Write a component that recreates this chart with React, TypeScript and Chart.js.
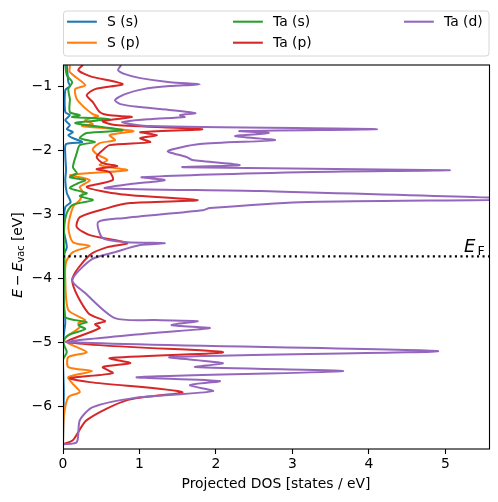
import React, { useEffect, useRef } from "react";
import { Chart, registerables } from "chart.js";

Chart.register(...registerables);

// ---------- data ----------
const seriesLabels = ["S (s)", "S (p)", "Ta (s)", "Ta (p)", "Ta (d)"];
const seriesColors = ["#1f77b4", "#ff7f0e", "#2ca02c", "#d62728", "#9467bd"];

const fermiLevel = -3.66;
const xTicks = [0, 1, 2, 3, 4, 5];
const yTicks = [-6, -5, -4, -3, -2, -1];
const xMin = 0;
const xMax = 5.57;
const yMin = -6.67;
const yMax = -0.67;

// S (s)
const sSEnergy = [-0.672, -0.938, -1.0, -1.063, -1.406, -1.453, -1.531, -1.609, -1.672, -1.719, -1.766, -1.813, -1.875, -1.906, -2.078, -2.313, -2.469, -2.672, -2.813, -2.89, -3.25, -3.516, -3.64, -4.344, -4.688, -4.89, -5.281, -5.781, -6.594];
const sSDos = [0.05, 0.07, 0.09, 0.03, 0.03, 0.09, 0.03, 0.09, 0.05, 0.13, 0.07, 0.13, 0.25, 0.04, 0.03, 0.04, 0.03, 0.05, 0.10, 0.03, 0.01, 0.05, 0.01, 0.01, 0.03, 0.01, 0.0, 0.01, 0.0];

// S (p)
const sPEnergy = [-0.672, -0.781, -0.984, -1.047, -1.203, -1.344, -1.438, -1.469, -1.531, -1.594, -1.625, -1.703, -1.766, -1.844, -1.89, -1.984, -2.063, -2.156, -2.234, -2.313, -2.359, -2.39, -2.469, -2.578, -2.656, -2.781, -2.89, -3.203, -3.438, -3.5, -3.594, -3.75, -4.031, -4.5, -4.656, -4.703, -4.766, -4.969, -5.156, -5.234, -5.39, -5.453, -5.547, -5.64, -5.781, -5.859, -6.172, -6.594];
const sPDos = [0.09, 0.09, 0.29, 0.16, 0.18, 0.29, 0.39, 0.46, 0.29, 0.39, 0.25, 0.92, 0.61, 0.68, 0.48, 0.39, 0.44, 0.58, 0.48, 0.84, 0.35, 0.09, 0.35, 0.22, 0.26, 0.22, 0.13, 0.07, 0.13, 0.35, 0.13, 0.04, 0.03, 0.07, 0.29, 0.20, 0.22, 0.01, 0.31, 0.07, 0.07, 0.38, 0.07, 0.12, 0.22, 0.07, 0.01, 0.0];

// Ta (s)
const taSEnergy = [-0.672, -0.828, -0.938, -1.047, -1.203, -1.406, -1.453, -1.484, -1.516, -1.578, -1.688, -1.734, -1.813, -1.875, -1.922, -2.047, -2.266, -2.359, -2.422, -2.469, -2.516, -2.594, -2.672, -2.719, -2.781, -2.859, -3.016, -3.328, -3.719, -4.344, -4.609, -4.656, -4.688, -4.734, -4.797, -4.89, -5.0, -5.156, -5.281, -6.594];
const taSDos = [0.03, 0.05, 0.12, 0.07, 0.09, 0.09, 0.22, 0.12, 0.61, 0.16, 0.78, 0.31, 0.22, 0.42, 0.22, 0.18, 0.13, 0.18, 0.09, 0.29, 0.20, 0.09, 0.31, 0.22, 0.39, 0.12, 0.04, 0.01, 0.02, 0.01, 0.03, 0.16, 0.31, 0.20, 0.29, 0.07, 0.0, 0.05, 0.0, 0.0];

// Ta (p)
const taPEnergy = [-0.672, -0.75, -0.844, -0.969, -1.047, -1.141, -1.25, -1.406, -1.453, -1.484, -1.547, -1.609, -1.672, -1.719, -1.766, -1.813, -1.875, -1.922, -2.0, -2.109, -2.203, -2.25, -2.297, -2.344, -2.469, -2.578, -2.688, -2.781, -2.828, -2.906, -3.047, -3.203, -3.328, -3.453, -3.516, -3.64, -4.031, -4.547, -4.672, -4.719, -4.781, -5.0, -5.156, -5.25, -5.328, -5.39, -5.484, -5.563, -5.625, -5.781, -5.906, -6.219, -6.531, -6.594];
const taPDos = [0.26, 0.20, 0.35, 0.78, 0.42, 0.31, 0.39, 0.48, 0.59, 0.90, 0.52, 0.68, 1.82, 1.01, 1.23, 1.01, 1.14, 0.61, 0.52, 0.44, 0.52, 0.71, 0.44, 0.61, 0.65, 0.31, 0.75, 1.76, 0.88, 0.58, 0.22, 0.18, 0.35, 0.84, 0.58, 0.35, 0.12, 0.33, 0.55, 0.42, 0.48, 0.05, 2.09, 0.61, 0.88, 0.52, 0.65, 0.09, 0.35, 1.56, 0.84, 0.31, 0.13, 0.0];

// Ta (d)
const taDEnergy = [-0.672, -0.75, -0.813, -0.875, -0.938, -0.969, -1.0, -1.047, -1.125, -1.219, -1.281, -1.328, -1.359, -1.422, -1.453, -1.484, -1.516, -1.563, -1.625, -1.672, -1.703, -1.734, -1.781, -1.844, -1.906, -2.016, -2.109, -2.156, -2.234, -2.266, -2.313, -2.344, -2.422, -2.469, -2.531, -2.594, -2.64, -2.766, -2.813, -2.906, -2.938, -3.063, -3.125, -3.375, -3.438, -3.453, -3.484, -3.594, -3.703, -4.031, -4.234, -4.625, -4.656, -4.672, -4.734, -4.781, -4.86, -5.0, -5.14, -5.234, -5.328, -5.39, -5.453, -5.547, -5.609, -5.672, -5.766, -5.875, -6.016, -6.219, -6.563, -6.594];
const taDDos = [0.76, 0.72, 0.81, 1.01, 1.40, 1.79, 1.40, 1.05, 0.81, 0.68, 0.75, 1.01, 1.27, 1.73, 1.53, 1.59, 1.14, 0.77, 1.14, 4.10, 2.31, 2.69, 2.25, 2.77, 1.79, 1.37, 1.62, 1.69, 2.31, 1.57, 5.05, 3.10, 1.03, 1.33, 0.88, 0.55, 2.58, 6.0, 3.10, 1.92, 1.83, 0.78, 0.46, 0.52, 0.84, 1.33, 1.01, 0.68, 0.38, 0.12, 0.29, 0.68, 1.20, 1.76, 1.42, 1.92, 1.14, 0.05, 4.90, 1.40, 2.09, 1.73, 3.66, 0.97, 2.05, 1.66, 1.96, 0.92, 0.39, 0.22, 0.18, 0.0];

const seriesEnergies = [sSEnergy, sPEnergy, taSEnergy, taPEnergy, taDEnergy];
const seriesDos = [sSDos, sPDos, taSDos, taPDos, taDDos];

const xTitle = "Projected DOS [states / eV]";

// ---------- helpers ----------
const FONT = '"DejaVu Sans", sans-serif';
const FS = 13.9;

function fmtTick(v: number): string {
  return v < 0 ? "\u2212" + Math.abs(v) : String(v);
}

type Piece = { t: string; italic?: boolean; size: number; dy: number; gapAfter?: number };

function drawPieces(ctx: CanvasRenderingContext2D, pieces: Piece[], cx: number) {
  let total = 0;
  const widths: number[] = [];
  for (const p of pieces) {
    ctx.font = `${p.italic ? "italic " : ""}${p.size}px ${FONT}`;
    const w = ctx.measureText(p.t).width + (p.gapAfter || 0);
    widths.push(w);
    total += w;
  }
  let x = cx - total / 2;
  pieces.forEach((p, i) => {
    ctx.font = `${p.italic ? "italic " : ""}${p.size}px ${FONT}`;
    ctx.fillText(p.t, x, p.dy);
    x += widths[i];
  });
}

const decorPlugin = {
  id: "decor",
  afterDatasetsDraw(chart: any) {
    const { ctx, chartArea: a, scales } = chart;
    const yF = scales.y.getPixelForValue(fermiLevel);
    ctx.save();
    // Fermi level line
    ctx.strokeStyle = "#000";
    ctx.lineWidth = 2.08;
    ctx.setLineDash([2.08, 3.44]);
    ctx.beginPath();
    ctx.moveTo(a.left, yF);
    ctx.lineTo(a.right, yF);
    ctx.stroke();
    ctx.setLineDash([]);
    // E_F label
    ctx.fillStyle = "#000";
    ctx.textAlign = "left";
    ctx.textBaseline = "alphabetic";
    ctx.font = `italic 18px ${FONT}`;
    ctx.fillText("E", a.right - 25, yF - 4);
    ctx.font = `12.6px ${FONT}`;
    ctx.fillText("F", a.right - 11.5, yF - 1.5);
    // frame
    ctx.lineWidth = 1.1;
    ctx.strokeRect(a.left + 0.5, a.top, a.right - a.left, a.bottom - a.top);
    ctx.restore();
  },
  afterDraw(chart: any) {
    const { ctx, chartArea: a } = chart;
    ctx.save();
    // legend box
    const bx = 63.5, by = 11, bw = 425.5, bh = 45, r = 3;
    ctx.beginPath();
    ctx.moveTo(bx + r, by);
    ctx.lineTo(bx + bw - r, by);
    ctx.quadraticCurveTo(bx + bw, by, bx + bw, by + r);
    ctx.lineTo(bx + bw, by + bh - r);
    ctx.quadraticCurveTo(bx + bw, by + bh, bx + bw - r, by + bh);
    ctx.lineTo(bx + r, by + bh);
    ctx.quadraticCurveTo(bx, by + bh, bx, by + bh - r);
    ctx.lineTo(bx, by + r);
    ctx.quadraticCurveTo(bx, by, bx + r, by);
    ctx.closePath();
    ctx.fillStyle = "rgba(255,255,255,0.8)";
    ctx.fill();
    ctx.strokeStyle = "#d6d6d6";
    ctx.lineWidth = 1;
    ctx.stroke();
    const colHandle = [68, 234, 405];
    const colText = [107, 273, 444];
    const rowY = [21.7, 42.7];
    ctx.font = `${FS}px ${FONT}`;
    ctx.textBaseline = "middle";
    ctx.textAlign = "left";
    seriesLabels.forEach((lab, i) => {
      const c = Math.floor(i / 2);
      const rr = i % 2;
      ctx.strokeStyle = seriesColors[i];
      ctx.lineWidth = 2.08;
      ctx.lineCap = "square";
      ctx.beginPath();
      ctx.moveTo(colHandle[c], rowY[rr]);
      ctx.lineTo(colHandle[c] + 27.8, rowY[rr]);
      ctx.stroke();
      ctx.fillStyle = "#000";
      ctx.fillText(lab, colText[c], rowY[rr] + 0.5);
    });
    // x title
    ctx.textAlign = "center";
    ctx.textBaseline = "alphabetic";
    ctx.font = `${FS}px ${FONT}`;
    ctx.fillText(xTitle, (a.left + a.right) / 2, 488);
    ctx.restore();
    // y title
    ctx.save();
    ctx.fillStyle = "#000";
    ctx.textAlign = "left";
    ctx.textBaseline = "alphabetic";
    ctx.translate(21.7, 255);
    ctx.rotate(-Math.PI / 2);
    drawPieces(
      ctx,
      [
        { t: "E", italic: true, size: FS, dy: 0, gapAfter: 3 },
        { t: "\u2212", size: FS, dy: 0, gapAfter: 3 },
        { t: "E", italic: true, size: FS, dy: 0 },
        { t: "vac", size: FS * 0.7, dy: 2.5 },
        { t: " [eV]", size: FS, dy: 0 },
      ],
      0
    );
    ctx.restore();
  },
};

export default function App() {
  const canvasRef = useRef<HTMLCanvasElement | null>(null);

  useEffect(() => {
    document.body.style.margin = "0";
    const canvas = canvasRef.current;
    if (!canvas) return;
    const datasets = seriesLabels.map((label, i) => ({
      label,
      data: seriesEnergies[i].map((e, j) => ({ x: seriesDos[i][j], y: e })),
      borderColor: seriesColors[i],
      backgroundColor: seriesColors[i],
      borderWidth: 2,
      pointRadius: 0,
      pointHoverRadius: 0,
      showLine: true,
      tension: 0.25,
      fill: false,
      order: seriesLabels.length - 1 - i,
      clip: 0,
    }));
    const tickFont = { family: FONT, size: FS };
    const chart = new Chart(canvas, {
      type: "scatter",
      data: { datasets } as any,
      options: {
        animation: false,
        responsive: false,
        devicePixelRatio: 1,
        events: [],
        layout: { padding: { top: 65, right: 9, left: 0, bottom: 0 } },
        plugins: { legend: { display: false }, tooltip: { enabled: false } },
        scales: {
          x: {
            type: "linear",
            min: xMin,
            max: xMax,
            afterBuildTicks: (s: any) => {
              s.ticks = xTicks.map((v) => ({ value: v }));
            },
            afterFit: (s: any) => {
              s.height = 53;
            },
            border: { display: false },
            grid: {
              display: true,
              drawOnChartArea: false,
              drawTicks: true,
              tickLength: 5,
              tickColor: "#000",
              tickWidth: 1.1,
            },
            ticks: {
              color: "#000",
              font: tickFont,
              padding: 2,
              maxRotation: 0,
              autoSkip: false,
              callback: (v: any) => fmtTick(Number(v)),
            },
          },
          y: {
            type: "linear",
            min: yMin,
            max: yMax,
            afterBuildTicks: (s: any) => {
              s.ticks = yTicks.map((v) => ({ value: v }));
            },
            afterFit: (s: any) => {
              s.width = 63;
            },
            border: { display: false },
            grid: {
              display: true,
              drawOnChartArea: false,
              drawTicks: true,
              tickLength: 5,
              tickColor: "#000",
              tickWidth: 1.1,
            },
            ticks: {
              color: "#000",
              font: tickFont,
              padding: 6,
              autoSkip: false,
              callback: (v: any) => fmtTick(Number(v)),
            },
          },
        },
      } as any,
      plugins: [decorPlugin],
    });
    return () => chart.destroy();
  }, []);

  return (
    <div style={{ width: 498, height: 502 }}>
      <canvas ref={canvasRef} width={498} height={502} style={{ display: "block" }} />
    </div>
  );
}
